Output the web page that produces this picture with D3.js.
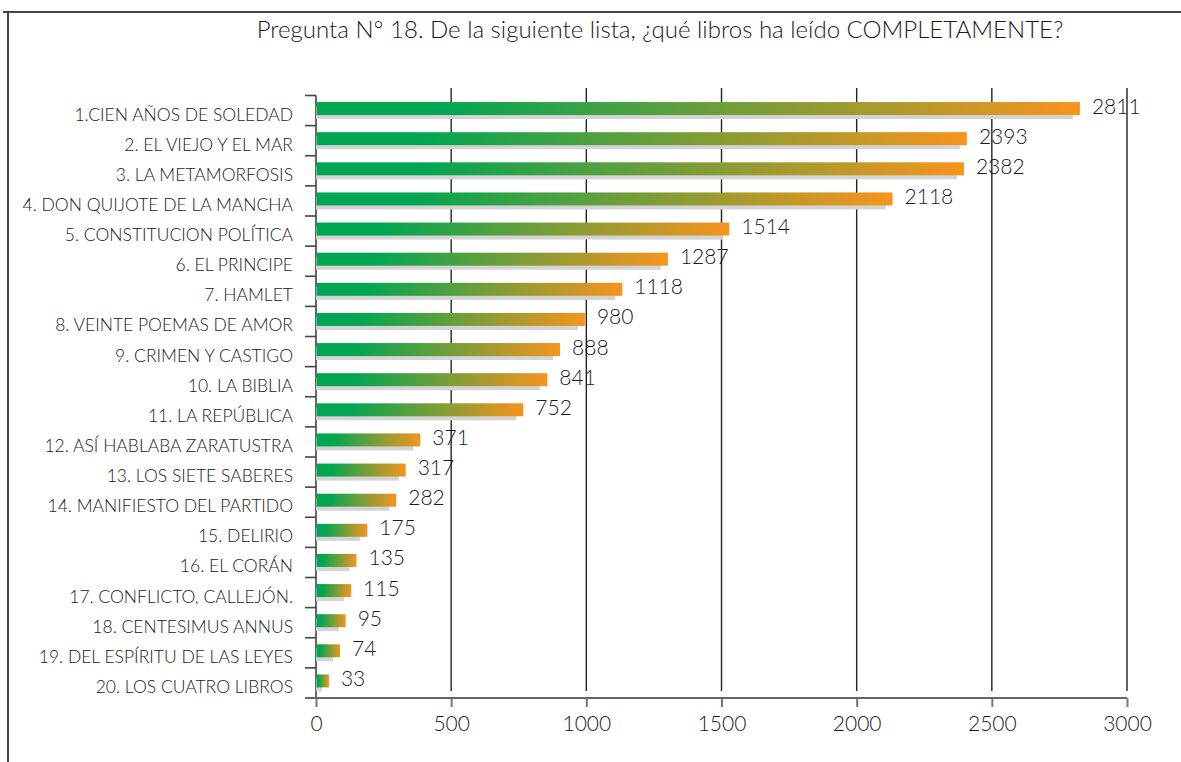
<!DOCTYPE html>
<html><head><meta charset="utf-8">
<script src="https://cdn.jsdelivr.net/npm/d3@7/dist/d3.min.js"></script>
<style>
html,body{margin:0;padding:0;background:#fff;}
svg text{font-family:"Lato","Open Sans",sans-serif;font-weight:300;fill:#1a1a1a;}
</style></head>
<body>
<svg id="c" width="1181" height="762"></svg>
<script>
const title = "Pregunta N° 18. De la siguiente lista, ¿qué libros ha leído COMPLETAMENTE?";
const categories = [
  "1.CIEN AÑOS DE SOLEDAD","2. EL VIEJO Y EL MAR","3. LA METAMORFOSIS","4. DON QUIJOTE DE LA MANCHA",
  "5. CONSTITUCION POLÍTICA","6. EL PRINCIPE","7. HAMLET","8. VEINTE POEMAS DE AMOR",
  "9. CRIMEN Y CASTIGO","10. LA BIBLIA","11. LA REPÚBLICA","12. ASÍ HABLABA ZARATUSTRA",
  "13. LOS SIETE SABERES","14. MANIFIESTO DEL PARTIDO","15. DELIRIO","16. EL CORÁN",
  "17. CONFLICTO, CALLEJÓN.","18. CENTESIMUS ANNUS","19. DEL ESPÍRITU DE LAS LEYES","20. LOS CUATRO LIBROS"
];
const values = [2811,2393,2382,2118,1514,1287,1118,980,888,841,752,371,317,282,175,135,115,95,74,33];
const xTicks = [0,500,1000,1500,2000,2500,3000];

const svg = d3.select("#c");

// frame
svg.append("line").attr("x1",3).attr("x2",1181).attr("y1",12).attr("y2",12).attr("stroke","#444").attr("stroke-width",2);
svg.append("line").attr("x1",8).attr("x2",8).attr("y1",12).attr("y2",762).attr("stroke","#444").attr("stroke-width",2);

function fit(el, w){ const l = el.node().getComputedTextLength(); if(l>0){ el.attr("font-size", +el.attr("font-size")*w/l); } }

// title
const t = svg.append("text").attr("x",660).attr("y",38).attr("text-anchor","middle").attr("font-size",24).text(title);
fit(t, 807);

const x = d3.scaleLinear().domain([0,3000]).range([316,1127]);
const y = d3.scaleBand().domain(categories).range([95.5,698]).padding(0);

const defs = svg.append("defs");
const g = defs.append("linearGradient").attr("id","bg").attr("x1","0").attr("x2","1").attr("y1","0").attr("y2","0");
g.append("stop").attr("offset","0").attr("stop-color","#00A651");
g.append("stop").attr("offset","0.16").attr("stop-color","#00A651");
g.append("stop").attr("offset","1").attr("stop-color","#F7941D");

// gridlines
svg.append("g").selectAll("line").data(xTicks.slice(1)).join("line")
  .attr("x1",d=>x(d)).attr("x2",d=>x(d)).attr("y1",88).attr("y2",691)
  .attr("stroke","#222").attr("stroke-width",1.4);

// bottom axis
const ax = svg.append("g").attr("transform","translate(0,698)")
  .call(d3.axisBottom(x).tickValues(xTicks).tickFormat(d3.format("d")).tickSize(9).tickSizeOuter(0).tickPadding(9));
ax.select(".domain").remove();
ax.selectAll(".tick line").attr("stroke","#777").attr("stroke-width",2);
ax.selectAll(".tick text").attr("font-size",21).attr("font-family","Lato, sans-serif").attr("font-weight",300).attr("fill","#1a1a1a");
svg.append("line").attr("x1",305).attr("x2",x(3000)).attr("y1",698).attr("y2",698).attr("stroke","#666").attr("stroke-width",2);

// y axis line and boundary ticks
svg.append("line").attr("x1",316).attr("x2",316).attr("y1",y.range()[0]).attr("y2",698).attr("stroke","#666").attr("stroke-width",2);
svg.append("g").selectAll("line").data(categories).join("line")
  .attr("x1",305).attr("x2",316).attr("y1",d=>y(d)).attr("y2",d=>y(d))
  .attr("stroke","#444").attr("stroke-width",1.6);

// category labels
svg.append("g").selectAll("text").data(categories).join("text")
  .attr("x",293).attr("y",d=>y(d)+y.bandwidth()/2+10)
  .attr("text-anchor","end").attr("font-size",17.5).text(d=>d);

const data = categories.map((c,i)=>({c, v: values[i]}));
// shadows
svg.append("g").selectAll("rect").data(data).join("rect")
  .attr("x",x(0)).attr("y",d=>y(d.c)+y.bandwidth()/2-4.5)
  .attr("width",d=>Math.max(1,x(d.v)-x(0)-3)).attr("height",13).attr("fill","#d3d3d3");
// bars
svg.append("g").selectAll("rect").data(data).join("rect")
  .attr("x",x(0)+0.5).attr("y",d=>y(d.c)+y.bandwidth()/2-8.5)
  .attr("width",d=>x(d.v)-x(0)+3.5).attr("height",13).attr("fill","url(#bg)");
// value labels
svg.append("g").selectAll("text").data(data).join("text")
  .attr("x",d=>x(d.v)+16).attr("y",d=>y(d.c)+y.bandwidth()/2+3)
  .attr("font-size",21).text(d=>d.v);
</script>
</body></html>
